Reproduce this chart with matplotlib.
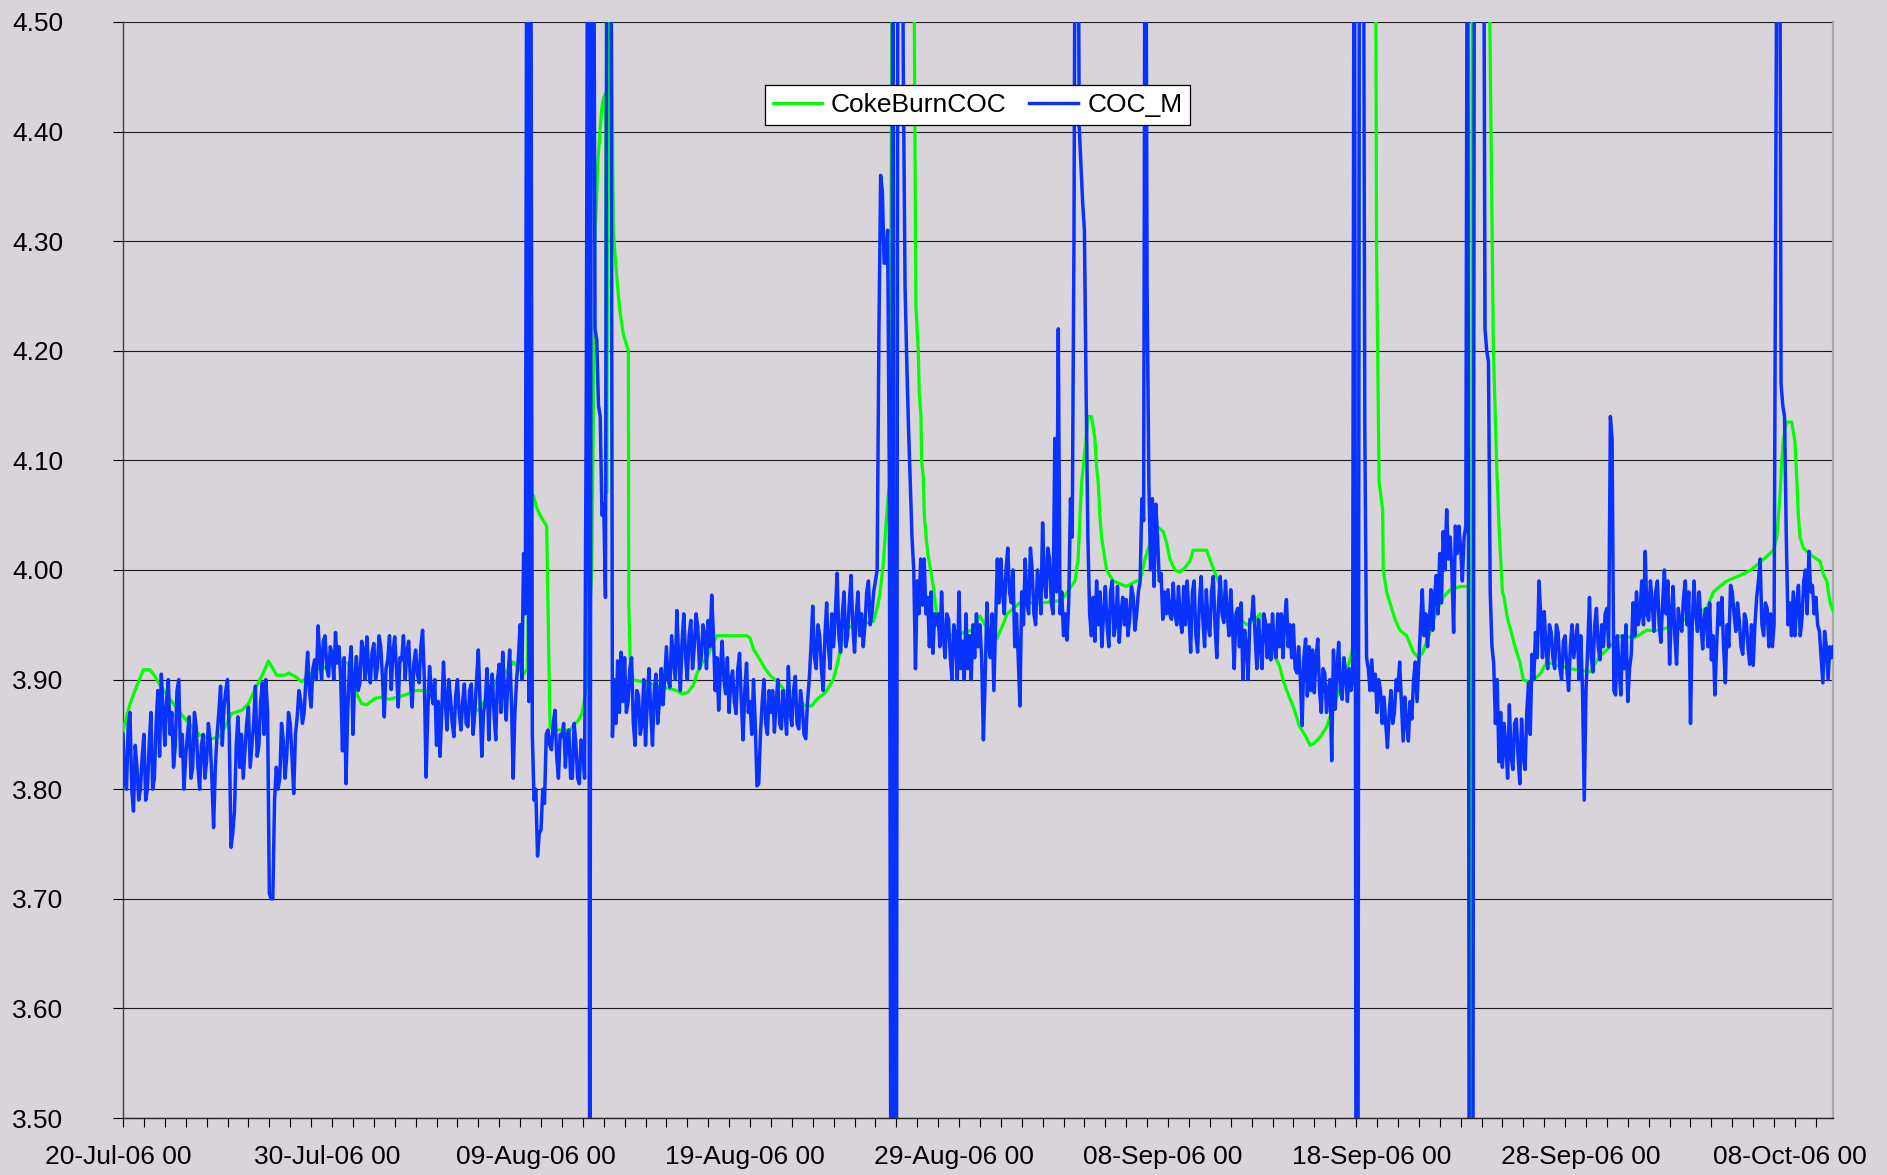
#!/usr/bin/env python3
"""CokeBurnCOC vs COC_M, 20-Jul-06 .. 10-Oct-06 (Excel-style line chart)."""
import numpy as np, pandas as pd
import matplotlib; matplotlib.use("Agg"); import matplotlib.pyplot as plt
from matplotlib.transforms import ScaledTranslation

START = pd.Timestamp("2006-07-20 00:00")
STEP_H = 2   # COC_M sampled every 2 hours

# COC_M, one row per day (12 readings); values off-scale are clipped by the axes
coc_m = [
    3.85, 3.81, 3.80, 3.86, 3.87, 3.80, 3.78, 3.84, 3.82, 3.79, 3.80, 3.83,
    3.85, 3.79, 3.80, 3.84, 3.87, 3.80, 3.81, 3.86, 3.89, 3.83, 3.905, 3.87,
    3.84, 3.88, 3.90, 3.85, 3.87, 3.82, 3.84, 3.89, 3.90, 3.83, 3.85, 3.80,
    3.83, 3.85, 3.866, 3.81, 3.82, 3.87, 3.857, 3.82, 3.80, 3.84, 3.85, 3.81,
    3.826, 3.86, 3.845, 3.81, 3.765, 3.82, 3.85, 3.87, 3.894, 3.84, 3.875, 3.89,
    3.90, 3.85, 3.747, 3.76, 3.78, 3.84, 3.866, 3.82, 3.85, 3.81, 3.835, 3.86,
    3.875, 3.82, 3.84, 3.86, 3.894, 3.83, 3.84, 3.88, 3.897, 3.85, 3.90, 3.87,
    3.705, 3.70, 3.70, 3.79, 3.82, 3.80, 3.81, 3.86, 3.845, 3.81, 3.83, 3.87,
    3.86, 3.83, 3.796, 3.85, 3.866, 3.89, 3.881, 3.86, 3.87, 3.90, 3.925, 3.89,
    3.875, 3.91, 3.918, 3.90, 3.949, 3.92, 3.90, 3.935, 3.94, 3.91, 3.903, 3.93,
    3.924, 3.90, 3.943, 3.915, 3.93, 3.90, 3.835, 3.92, 3.805, 3.87, 3.912, 3.93,
    3.85, 3.90, 3.921, 3.89, 3.897, 3.935, 3.927, 3.90, 3.939, 3.91, 3.897, 3.925,
    3.933, 3.90, 3.91, 3.94, 3.93, 3.90, 3.866, 3.91, 3.918, 3.94, 3.891, 3.925,
    3.939, 3.91, 3.875, 3.92, 3.918, 3.94, 3.90, 3.925, 3.935, 3.90, 3.875, 3.915,
    3.927, 3.905, 3.897, 3.93, 3.945, 3.90, 3.811, 3.87, 3.912, 3.89, 3.878, 3.90,
    3.84, 3.88, 3.83, 3.87, 3.916, 3.88, 3.854, 3.90, 3.884, 3.86, 3.848, 3.885,
    3.90, 3.87, 3.854, 3.88, 3.896, 3.86, 3.857, 3.89, 3.896, 3.85, 3.87, 3.90,
    3.927, 3.88, 3.83, 3.87, 3.88, 3.91, 3.845, 3.89, 3.905, 3.87, 3.845, 3.90,
    3.914, 3.87, 3.925, 3.89, 3.863, 3.90, 3.927, 3.88, 3.81, 3.87, 3.90, 3.92,
    3.95, 3.90, 4.015, 3.96, 4.80, 3.88, 4.80, 3.85, 3.79, 3.80, 3.739, 3.76,
    3.763, 3.80, 3.787, 3.85, 3.854, 3.84, 3.836, 3.86, 3.872, 3.83, 3.81, 3.85,
    3.848, 3.86, 3.82, 3.85, 3.854, 3.81, 3.81, 3.86, 3.842, 3.81, 3.805, 3.845,
    3.84, 3.81, 4.17, 4.80, 3.30, 4.80, 4.80, 4.22, 4.21, 4.15, 4.14, 4.05,
    4.06, 3.975, 4.80, 4.80, 4.80, 3.848, 3.90, 3.86, 3.917, 3.87, 3.925, 3.88,
    3.92, 3.87, 3.88, 3.91, 3.92, 3.86, 3.84, 3.89, 3.885, 3.85, 3.86, 3.90,
    3.84, 3.88, 3.91, 3.87, 3.84, 3.89, 3.905, 3.86, 3.88, 3.91, 3.877, 3.90,
    3.93, 3.90, 3.893, 3.94, 3.92, 3.90, 3.963, 3.92, 3.89, 3.935, 3.96, 3.92,
    3.90, 3.94, 3.954, 3.91, 3.93, 3.96, 3.948, 3.91, 3.92, 3.95, 3.942, 3.91,
    3.954, 3.93, 3.977, 3.94, 3.89, 3.92, 3.872, 3.91, 3.935, 3.90, 3.887, 3.92,
    3.87, 3.90, 3.908, 3.88, 3.869, 3.91, 3.924, 3.88, 3.845, 3.89, 3.915, 3.87,
    3.88, 3.85, 3.90, 3.86, 3.803, 3.805, 3.85, 3.88, 3.90, 3.86, 3.85, 3.89,
    3.87, 3.89, 3.852, 3.88, 3.90, 3.86, 3.855, 3.89, 3.873, 3.85, 3.912, 3.87,
    3.858, 3.89, 3.903, 3.86, 3.855, 3.89, 3.876, 3.85, 3.846, 3.88, 3.90, 3.93,
    3.967, 3.92, 3.91, 3.95, 3.94, 3.91, 3.89, 3.94, 3.97, 3.93, 3.91, 3.96,
    3.93, 3.96, 3.997, 3.94, 3.925, 3.96, 3.98, 3.93, 3.94, 3.97, 3.995, 3.95,
    3.925, 3.96, 3.98, 3.94, 3.96, 3.93, 3.95, 3.98, 3.99, 3.95, 3.96, 3.98,
    3.99, 4.00, 4.215, 4.36, 4.345, 4.28, 4.28, 4.31, 4.08, 3.30, 4.80, 3.30,
    3.30, 4.80, 4.80, 4.80, 4.46, 4.26, 4.19, 4.13, 4.08, 4.03, 4.00, 3.91,
    3.99, 3.96, 4.01, 3.968, 4.01, 3.96, 3.975, 3.93, 3.98, 3.924, 3.96, 3.95,
    3.96, 3.93, 3.98, 3.94, 3.92, 3.96, 3.955, 3.92, 3.90, 3.95, 3.94, 3.90,
    3.98, 3.91, 3.935, 3.90, 3.96, 3.91, 3.94, 3.90, 3.95, 3.92, 3.96, 3.93,
    3.95, 3.92, 3.845, 3.90, 3.97, 3.93, 3.92, 3.96, 3.89, 3.95, 4.01, 3.97,
    4.01, 3.98, 3.96, 4.00, 4.02, 3.98, 3.97, 4.00, 3.93, 3.96, 3.92, 3.876,
    3.98, 3.95, 4.01, 3.97, 3.96, 4.02, 4.00, 3.96, 3.95, 4.00, 3.99, 3.96,
    4.043, 3.99, 3.975, 4.02, 4.01, 3.97, 3.96, 4.12, 3.98, 4.22, 3.96, 3.98,
    3.94, 3.96, 3.936, 3.97, 4.065, 4.03, 4.30, 4.80, 4.80, 4.405, 4.37, 4.335,
    4.31, 4.16, 4.03, 3.96, 3.94, 3.975, 3.935, 3.99, 3.95, 3.98, 3.93, 3.96,
    3.985, 3.95, 3.93, 3.98, 3.99, 3.94, 3.95, 3.985, 3.934, 3.96, 3.975, 3.95,
    3.973, 3.94, 3.955, 3.985, 3.976, 3.945, 3.96, 3.98, 3.99, 4.065, 4.045, 4.80,
    4.255, 4.08, 4.00, 4.065, 3.985, 4.06, 4.03, 3.99, 3.997, 3.955, 3.98, 3.96,
    3.982, 3.96, 3.955, 3.988, 3.96, 3.95, 3.985, 3.955, 3.943, 3.985, 3.95, 3.99,
    3.96, 3.925, 3.98, 3.99, 3.94, 3.925, 3.97, 3.994, 3.955, 3.93, 3.982, 3.95,
    3.94, 3.98, 3.994, 3.95, 3.92, 3.97, 3.994, 3.96, 3.952, 3.99, 3.96, 3.94,
    3.982, 3.95, 3.91, 3.96, 3.965, 3.93, 3.97, 3.90, 3.945, 3.93, 3.90, 3.955,
    3.955, 3.976, 3.94, 3.91, 3.955, 3.93, 3.91, 3.96, 3.952, 3.92, 3.95, 3.918,
    3.96, 3.93, 3.92, 3.96, 3.93, 3.96, 3.92, 3.955, 3.973, 3.93, 3.95, 3.92,
    3.95, 3.91, 3.906, 3.93, 3.90, 3.858, 3.92, 3.937, 3.885, 3.93, 3.89, 3.927,
    3.888, 3.92, 3.937, 3.89, 3.87, 3.91, 3.906, 3.87, 3.89, 3.90, 3.826, 3.927,
    3.873, 3.91, 3.934, 3.89, 3.882, 3.92, 3.906, 3.88, 3.91, 3.89, 3.90, 4.80,
    3.30, 3.30, 4.80, 4.80, 4.80, 4.13, 3.92, 3.91, 3.89, 3.918, 3.89, 3.905,
    3.87, 3.90, 3.89, 3.86, 3.884, 3.86, 3.838, 3.87, 3.89, 3.86, 3.87, 3.90,
    3.89, 3.916, 3.88, 3.844, 3.884, 3.86, 3.844, 3.88, 3.864, 3.90, 3.916, 3.88,
    3.916, 3.95, 3.982, 3.94, 3.96, 3.93, 3.95, 3.982, 3.945, 3.975, 3.995, 3.96,
    4.015, 3.97, 4.035, 4.00, 4.055, 4.01, 4.03, 4.00, 3.943, 4.04, 4.015, 4.04,
    4.02, 3.99, 4.03, 4.04, 4.80, 3.30, 3.30, 3.30, 4.80, 4.80, 4.80, 4.80,
    4.80, 4.80, 4.22, 4.20, 4.19, 3.98, 3.93, 3.915, 3.86, 3.90, 3.825, 3.87,
    3.82, 3.86, 3.838, 3.81, 3.877, 3.83, 3.818, 3.86, 3.864, 3.83, 3.805, 3.864,
    3.83, 3.818, 3.87, 3.897, 3.85, 3.923, 3.90, 3.943, 3.92, 3.99, 3.96, 3.92,
    3.962, 3.93, 3.91, 3.95, 3.943, 3.92, 3.91, 3.95, 3.943, 3.91, 3.90, 3.935,
    3.94, 3.91, 3.89, 3.93, 3.95, 3.92, 3.935, 3.95, 3.90, 3.94, 3.89, 3.79,
    3.89, 3.93, 3.975, 3.92, 3.907, 3.95, 3.965, 3.93, 3.918, 3.95, 3.93, 3.96,
    3.965, 3.93, 4.14, 4.118, 3.89, 3.886, 3.94, 3.91, 3.886, 3.94, 3.91, 3.95,
    3.88, 3.91, 3.923, 3.97, 3.94, 3.98, 3.95, 3.96, 3.99, 3.95, 4.017, 3.96,
    3.954, 3.99, 3.97, 3.944, 3.98, 3.99, 3.95, 3.934, 3.97, 4.00, 3.96, 3.99,
    3.914, 3.96, 3.985, 3.94, 3.914, 3.965, 3.95, 3.944, 3.975, 3.99, 3.95, 3.98,
    3.86, 3.95, 3.99, 3.96, 3.944, 3.98, 3.95, 3.928, 3.96, 3.965, 3.93, 3.97,
    3.918, 3.94, 3.886, 3.93, 3.97, 3.95, 3.975, 3.93, 3.897, 3.95, 3.93, 3.986,
    3.98, 3.96, 3.944, 3.97, 3.954, 3.93, 3.923, 3.96, 3.954, 3.93, 3.914, 3.95,
    3.913, 3.95, 3.975, 3.99, 4.01, 3.95, 3.94, 3.97, 3.965, 3.93, 3.96, 3.93,
    3.95, 4.35, 4.80, 4.80, 4.17, 4.15, 4.14, 4.03, 3.95, 3.97, 3.94, 3.98,
    3.94, 3.97, 3.986, 3.94, 3.955, 3.99, 4.00, 3.96, 4.017, 3.98, 3.986, 3.96,
    3.975, 3.95, 3.944, 3.92, 3.897, 3.944, 3.93, 3.90, 3.93, 3.92, 3.93,
]

# CokeBurnCOC: days since START and value at each vertex
coke_day = [0.00, 0.34, 0.57, 0.97, 1.29, 1.53, 1.77, 2.41, 2.89, 3.29, 3.68, 4.24, 4.64, 4.88,
            5.20, 5.68, 6.00, 6.32, 6.63, 6.87, 6.95, 7.11, 7.35, 7.75, 7.91, 8.23, 8.55, 9.19,
            9.82, 10.30, 10.78, 11.10, 11.42, 11.66, 12.06, 12.38, 12.70, 13.17, 13.65, 13.97,
            14.29, 14.60, 14.93, 15.41, 17.00, 17.45, 17.90, 18.36, 18.68, 19.16, 19.35, 19.45,
            19.63, 19.79, 19.95, 20.11, 20.27, 20.43, 20.60, 21.40, 21.55, 21.79, 21.95, 22.03,
            22.15, 22.43, 22.58, 22.66, 22.71, 22.82, 22.90, 22.98, 23.09, 23.14, 23.30, 23.38,
            23.46, 23.57, 23.75, 23.94, 24.18, 24.20, 24.26, 24.40, 26.50, 26.73, 27.00, 27.30,
            27.45, 27.70, 27.95, 28.15, 28.40, 29.84, 30.00, 30.16, 30.48, 30.72, 31.00, 31.20,
            31.50, 31.90, 32.70, 32.95, 33.20, 33.60, 33.98, 34.15, 34.30, 34.62, 34.94, 35.90,
            36.06, 36.20, 36.38, 36.49, 36.62, 36.70, 36.85, 37.80, 37.85, 37.89, 37.94, 38.05,
            38.10, 38.18, 38.21, 38.29, 38.34, 38.45, 38.53, 38.64, 38.77, 38.93, 39.17, 39.72,
            40.60, 41.00, 41.40, 41.80, 42.10, 42.30, 42.90, 44.00, 44.83, 45.05, 45.55, 45.70,
            45.79, 45.87, 45.95, 46.18, 46.34, 46.42, 46.50, 46.58, 46.66, 46.74, 46.82, 46.90,
            47.06, 47.38, 48.00, 48.50, 48.66, 48.90, 49.06, 49.45, 49.77, 49.93, 50.09, 50.33,
            50.57, 50.81, 51.05, 51.20, 51.85, 52.00, 52.20, 52.40, 52.65, 53.00, 53.40, 53.80,
            54.20, 54.40, 54.70, 55.00, 55.35, 55.50, 55.68, 56.00, 56.30, 56.60, 56.80, 57.00,
            57.30, 57.60, 57.90, 58.20, 58.50, 58.80, 58.90, 59.10, 59.20, 59.90, 59.95, 59.98,
            60.10, 60.27, 60.30, 60.46, 60.62, 60.86, 61.10, 61.42, 61.74, 61.98, 62.20, 62.54,
            62.85, 63.17, 63.50, 64.00, 64.37, 64.52, 64.56, 65.35, 65.40, 65.57, 65.73, 65.85,
            66.00, 66.08, 66.24, 66.40, 66.60, 66.84, 67.00, 67.32, 67.80, 68.12, 68.60, 69.24,
            70.20, 70.60, 71.15, 71.63, 72.30, 72.90, 73.50, 74.34, 75.10, 75.78, 76.10, 76.40,
            76.74, 77.37, 77.90, 78.33, 78.80, 78.97, 79.13, 79.29, 79.37, 79.45, 79.60, 79.84,
            80.00, 80.08, 80.16, 80.24, 80.40, 80.56, 80.88, 81.20, 81.36, 81.52, 81.68, 81.84]
coke_val = [3.854, 3.878, 3.890, 3.909, 3.909, 3.903, 3.895, 3.878, 3.866, 3.857, 3.849, 3.846, 3.848, 3.857,
            3.869, 3.872, 3.878, 3.891, 3.903, 3.913, 3.917, 3.912, 3.904, 3.904, 3.906, 3.903, 3.898, 3.909,
            3.912, 3.917, 3.915, 3.890, 3.878, 3.877, 3.883, 3.884, 3.882, 3.884, 3.887, 3.890,
            3.890, 3.889, 3.878, 3.875, 3.872, 3.885, 3.900, 3.908, 3.916, 3.905, 3.910, 4.070,
            4.068, 4.057, 4.050, 4.045, 4.040, 3.857, 3.854, 3.854, 3.858, 3.863, 3.869, 3.876,
            3.890, 4.000, 4.300, 4.340, 4.370, 4.400, 4.420, 4.430, 4.435, 4.070, 4.800, 4.500,
            4.310, 4.280, 4.240, 4.215, 4.200, 3.970, 3.920, 3.900, 3.890, 3.887, 3.888, 3.895,
            3.905, 3.915, 3.920, 3.930, 3.940, 3.940, 3.938, 3.928, 3.918, 3.910, 3.903, 3.900,
            3.894, 3.882, 3.876, 3.876, 3.882, 3.888, 3.900, 3.912, 3.925, 3.946, 3.950, 3.953,
            3.964, 3.976, 4.006, 4.037, 4.070, 4.080, 4.800, 4.800, 4.550, 4.400, 4.240, 4.200,
            4.160, 4.140, 4.100, 4.085, 4.050, 4.025, 4.012, 4.000, 3.985, 3.960, 3.945, 3.940,
            3.945, 3.958, 3.945, 3.937, 3.950, 3.960, 3.970, 3.970, 3.972, 3.976, 3.990, 4.010,
            4.050, 4.080, 4.095, 4.140, 4.140, 4.130, 4.120, 4.095, 4.080, 4.050, 4.030, 4.020,
            4.000, 3.990, 3.985, 3.990, 3.990, 4.010, 4.020, 4.040, 4.035, 4.025, 4.010, 4.000,
            3.998, 4.002, 4.008, 4.018, 4.018, 4.010, 4.000, 3.990, 3.975, 3.960, 3.955, 3.950,
            3.955, 3.960, 3.950, 3.925, 3.912, 3.900, 3.890, 3.875, 3.857, 3.848, 3.840, 3.842,
            3.848, 3.857, 3.875, 3.890, 3.905, 3.925, 3.935, 3.940, 4.800, 4.800, 4.500, 4.290,
            4.080, 4.055, 4.000, 3.980, 3.970, 3.955, 3.945, 3.940, 3.925, 3.920, 3.925, 3.944,
            3.962, 3.975, 3.982, 3.985, 3.985, 3.300, 4.800, 4.800, 4.500, 4.200, 4.093, 4.035,
            3.980, 3.975, 3.956, 3.945, 3.930, 3.916, 3.900, 3.897, 3.905, 3.916, 3.913, 3.910,
            3.907, 3.920, 3.930, 3.940, 3.938, 3.945, 3.945, 3.950, 3.960, 3.965, 3.980, 3.985,
            3.990, 3.995, 4.000, 4.007, 4.015, 4.018, 4.030, 4.070, 4.100, 4.120, 4.135, 4.135,
            4.117, 4.085, 4.050, 4.030, 4.020, 4.017, 4.012, 4.008, 3.996, 3.990, 3.970, 3.962]

Y_TICKS = [3.50, 3.60, 3.70, 3.80, 3.90, 4.00, 4.10, 4.20, 4.30, 4.40, 4.50]
LABEL_DAYS = [0, 10, 20, 30, 40, 50, 60, 70, 80]
X_END = 81.82

BG = "#D8D4D9"
FS = 19
plt.rcParams["font.family"] = ["Liberation Sans", "DejaVu Sans"]

coc_t = np.arange(len(coc_m)) * STEP_H / 24.0
fig = plt.figure(figsize=(18.87, 11.75), dpi=100, facecolor=BG)
ax = fig.add_axes([0.0652, 0.0485, 0.9062, 0.9328], facecolor=BG)

ax.plot(coke_day, coke_val, color="#00FF00", lw=2.3, label="CokeBurnCOC", zorder=3)
ax.plot(coc_t, coc_m, color="#0A32FF", lw=2.5, label="COC_M", zorder=4)

ax.set_xlim(0, X_END); ax.set_ylim(3.5, 4.5)
ax.set_yticks(Y_TICKS)
ax.set_yticklabels([f"{v:.2f}" for v in Y_TICKS])
ax.set_xticks(LABEL_DAYS)
ax.set_xticklabels([(START + pd.Timedelta(days=d)).strftime("%d-%b-%y %H") for d in LABEL_DAYS])
ax.set_xticks(np.arange(0, 82), minor=True)
ax.yaxis.grid(True, color="#1a1a1a", lw=0.8)
ax.set_axisbelow(True)

ax.tick_params(axis="y", direction="out", length=7, width=0.8, pad=36, labelsize=FS, colors="black")
ax.tick_params(axis="x", which="both", direction="out", length=6.5, width=0.8, pad=13, labelsize=FS)
off = ScaledTranslation(-5 / 100, 0, fig.dpi_scale_trans)
for lab in ax.get_xticklabels():
    lab.set_transform(lab.get_transform() + off)

ax.spines["top"].set_visible(False)
ax.spines["right"].set_color("#A8A8A8"); ax.spines["right"].set_linewidth(1.6)
ax.spines["left"].set_color("#404040"); ax.spines["left"].set_linewidth(1.0)
ax.spines["bottom"].set_color("#202020"); ax.spines["bottom"].set_linewidth(1.0)

leg = ax.legend(loc="upper left", bbox_to_anchor=(0.3754, 0.9425), ncol=2, fontsize=FS,
                frameon=True, fancybox=False, edgecolor="black", facecolor="white", framealpha=1,
                borderpad=0.3, handlelength=1.85, handletextpad=0.35, columnspacing=0.85,
                borderaxespad=0)
leg.get_frame().set_linewidth(0.9)

fig.savefig("out.png", dpi=100, facecolor=BG)
